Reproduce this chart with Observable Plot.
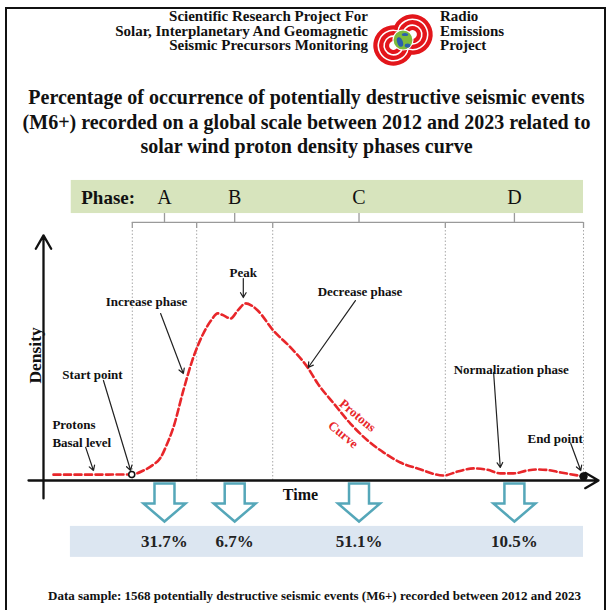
<!DOCTYPE html>
<html><head><meta charset="utf-8">
<script src="https://cdn.jsdelivr.net/npm/d3@7"></script>
<script src="https://cdn.jsdelivr.net/npm/@observablehq/plot@0.6"></script>
<style>
body{margin:0;background:#fff;}
#page{position:relative;width:613px;height:610px;overflow:hidden;background:#fff;font-family:"Liberation Serif","Times New Roman",serif;font-weight:bold;color:#111;}
.frame{position:absolute;left:5px;top:7px;width:601px;height:640px;border:2px solid #111;box-sizing:border-box;}
.hdrL{position:absolute;right:245px;top:9px;text-align:right;font-size:15px;line-height:14.5px;white-space:nowrap;}
.hdrR{position:absolute;left:440px;top:9px;text-align:left;font-size:15px;line-height:14.5px;white-space:nowrap;}
.logo{position:absolute;left:366px;top:5px;}
.title{position:absolute;left:0;width:613px;top:85px;text-align:center;font-size:20px;line-height:24.5px;}
#chart{position:absolute;left:0;top:165px;}
.caption{position:absolute;left:8px;width:613px;top:588px;text-align:center;font-size:13px;line-height:16px;}
</style></head>
<body>
<div id="page">
  <div class="frame"></div>
  <div class="hdrL">Scientific Research Project For<br>Solar, Interplanetary And Geomagnetic<br>Seismic Precursors Monitoring</div>
  <svg class="logo" id="logo" width="76" height="64"></svg>
  <div class="hdrR">Radio<br>Emissions<br>Project</div>
  <div class="title">Percentage of occurrence of potentially destructive seismic events<br>(M6+) recorded on a global scale between 2012 and 2023 related to<br>solar wind proton density phases curve</div>
  <div id="chart"></div>
  <div class="caption">Data sample: 1568 potentially destructive seismic events (M6+) recorded between 2012 and 2023</div>
</div>
<script>
// ---------- data ----------
const phases = ["A", "B", "C", "D"];
const phaseStart = [16.0, 27.6, 41.3, 72.4];
const phaseEnd = [27.6, 41.3, 72.4, 97.3];
const percentages = [31.7, 6.7, 51.1, 10.5];

const curveTime = [1.8, 8, 15.9, 18.0, 19.6, 21.1, 22.3, 23.4, 25.2, 26.8, 28.8, 30.2, 31.4, 32.6, 33.7, 35.0, 36.4, 37.5, 38.6, 41.4, 44.5, 47.6, 49.4, 52.3, 55.3, 58.4, 61.3, 64.3, 67.4, 72.1, 74.8, 77.5, 80.0, 82.3, 84.7, 87.0, 89.0, 91.0, 93.2, 97.3];
const curveDensity = [3.3, 3.3, 3.4, 5.6, 8.5, 12.9, 20.8, 29.8, 50.6, 67.4, 82.6, 90.0, 93.9, 92.5, 91.0, 95.5, 99.5, 98.3, 95.5, 84.3, 74.8, 63.5, 54.5, 43.3, 32.0, 22.5, 15.7, 10.1, 6.8, 2.8, 5.2, 6.8, 6.0, 4.0, 4.0, 5.5, 6.2, 5.8, 4.5, 2.3];

const noteLabels = ["Protons\nBasal level", "Start point", "Increase phase", "Peak", "Decrease phase", "Normalization phase", "End point"];
const noteTime = [1.6, 3.4, 11.2, 36.0, 49.4, 73.9, 87.2];
const noteDensity = [27.3, 60.7, 101.7, 118.0, 106.8, 63.5, 24.7];
const noteAnchor = ["start", "start", "start", "middle", "start", "start", "start"];
const pointerFromTime = [7.6, 10.8, 21.1, 36.0, 56.2, 81.1, 95.0];
const pointerFromDensity = [18.6, 56.2, 93.8, 113.5, 101.1, 60.7, 20.8];
const pointerToTime = [9.0, 15.7, 25.2, 36.0, 47.7, 82.3, 96.8];
const pointerToDensity = [5.6, 5.6, 60.1, 102.8, 63.5, 7.3, 5.6];

const curveLabels = ["Protons", "Curve"];
const curveLabelTime = [56.6, 54.0];
const curveLabelDensity = [36.5, 25.8];

// ---------- derived tables ----------
const curve = curveTime.map((t, i) => ({t, d: curveDensity[i]}));
const phaseRows = phases.map((p, i) => ({p, s: phaseStart[i], e: phaseEnd[i], m: (phaseStart[i] + phaseEnd[i]) / 2, pct: percentages[i]}));
const bounds = [...phaseStart, phaseEnd[phaseEnd.length - 1]];
const notes = noteLabels.map((text, i) => ({text, t: noteTime[i], d: noteDensity[i], a: noteAnchor[i]}));
const pointers = noteLabels.map((_, i) => ({x1: pointerFromTime[i], y1: pointerFromDensity[i], x2: pointerToTime[i], y2: pointerToDensity[i]}));
const curveNotes = curveLabels.map((text, i) => ({text, t: curveLabelTime[i], d: curveLabelDensity[i]}));

// layout (density units, above / below the curve area)
const BAR = [150.0, 168.6], BRACKET = 145.0, CORNER = 141.6, PHASE_Y = 159.0;
const BAND = [-43.2, -25.8], PCT_Y = -34.3, ARROW_Y = -12.4;
const BAR_LEFT = 5.0, BAR_RIGHT = 97.3;

const blockArrow = {
  draw(ctx, size) {
    const r = Math.sqrt(size / Math.PI);
    const sw = 0.526 * r, hw = 1.105 * r, hy = 0.05 * r;
    ctx.moveTo(-sw, -r); ctx.lineTo(sw, -r); ctx.lineTo(sw, hy); ctx.lineTo(hw, hy);
    ctx.lineTo(0, r); ctx.lineTo(-hw, hy); ctx.lineTo(-sw, hy); ctx.closePath();
  }
};

const serif = "Liberation Serif";
const noteStyle = {x: "t", y: "d", text: "text", fontSize: 13, fontWeight: "bold", fill: "#111", lineHeight: 1.45};
const chart = Plot.plot({
  width: 613, height: 420, margin: 0,
  style: {fontFamily: serif, fontWeight: "bold", fontSize: "12px", background: "transparent", overflow: "visible"},
  x: {domain: [0, 100], range: [43, 598], axis: null},
  y: {domain: [-59, 177], range: [420, 0], axis: null},
  marks: [
    // phase bar
    Plot.rect([0], {x1: BAR_LEFT, x2: BAR_RIGHT, y1: BAR[0], y2: BAR[1], fill: "#d7e4bd"}),
    Plot.text(["Phase:"], {x: BAR_LEFT + 1.8, y: PHASE_Y, text: d => d, textAnchor: "start", fontSize: 19, fontWeight: "bold", fill: "#111"}),
    Plot.text(phaseRows, {x: "m", y: PHASE_Y, text: "p", fontSize: 20, fontWeight: "normal", fill: "#111"}),
    // brackets
    Plot.ruleY(phaseRows, {x1: "s", x2: "e", y: BRACKET, stroke: "#9a9a9a", strokeWidth: 1.3}),
    Plot.ruleX(phaseRows, {x: "m", y1: BRACKET, y2: BAR[0], stroke: "#9a9a9a", strokeWidth: 1.3}),
    Plot.ruleX(bounds, {x: d => d, y1: CORNER, y2: BRACKET, stroke: "#9a9a9a", strokeWidth: 1.3}),
    Plot.ruleX(bounds, {x: d => d, y1: 0, y2: CORNER, stroke: "#a8a8a8", strokeWidth: 1, strokeDasharray: "1.5,2"}),
    // percentage band
    Plot.rect([0], {x1: BAR_LEFT - 0.15, x2: BAR_RIGHT, y1: BAND[0], y2: BAND[1], fill: "#dce6f1"}),
    Plot.dot(phaseRows, {x: "m", y: ARROW_Y, r: 19, symbol: blockArrow, fill: "white", stroke: "#55a7b9", strokeWidth: 2.5}),
    Plot.text(phaseRows, {x: "m", y: PCT_Y, text: d => d.pct.toFixed(1) + "%", fontSize: 17, fontWeight: "bold", fill: "#222"}),
    // axes
    Plot.arrow([0], {x1: 0, x2: 0, y1: -10.1, y2: 137.7, stroke: "#111", strokeWidth: 2.3, headLength: 10}),
    Plot.arrow([0], {x1: -2.7, x2: 100, y1: 0, y2: 0, stroke: "#111", strokeWidth: 2.3, headLength: 10}),
    Plot.text(["Density"], {x: -1.44, y: 70.3, text: d => d, rotate: -90, fontSize: 17.5, fontWeight: "bold", fill: "#111"}),
    Plot.text(["Time"], {x: 46.3, y: -7.8, text: d => d, fontSize: 16, fontWeight: "bold", fill: "#111"}),
    // curve
    Plot.line(curve, {x: "t", y: "d", curve: "monotone-x", stroke: "#e8262a", strokeWidth: 2.6, strokeDasharray: "7,3.5"}),
    Plot.dot([curve[2]], {x: "t", y: "d", r: 3, stroke: "#111", strokeWidth: 1.5, fill: "white"}),
    Plot.dot([curve[curve.length - 1]], {x: "t", y: "d", r: 4.2, fill: "#111", stroke: "none"}),
    // annotations
    Plot.arrow(pointers, {x1: "x1", y1: "y1", x2: "x2", y2: "y2", stroke: "#222", strokeWidth: 1.2, headLength: 7}),
    Plot.text(notes.filter(n => n.a === "start"), {...noteStyle, textAnchor: "start"}),
    Plot.text(notes.filter(n => n.a === "middle"), {...noteStyle, textAnchor: "middle"}),
    Plot.text(curveNotes, {x: "t", y: "d", text: "text", rotate: 40, fontSize: 13, fontWeight: "bold", fill: "#e8262a"})
  ]
});
document.getElementById("chart").appendChild(chart);

// ---------- logo (decoration) ----------
const logo = d3.select("#logo");
const gx = 37, gy = 35;
const arc = d3.arc();
const lobes = [{cx: gx - 9.5, cy: gy + 5.5, open: Math.PI / 3}, {cx: gx + 9.5, cy: gy - 5.5, open: Math.PI / 3 + Math.PI}];
for (const L of lobes) {
  for (const r of [6.5, 12.3, 18.1]) {
    logo.append("path")
      .attr("transform", `translate(${L.cx},${L.cy})`)
      .attr("d", arc({innerRadius: r - 2.1, outerRadius: r + 2.1, startAngle: L.open + 0.8, endAngle: L.open + 2 * Math.PI - 0.8}))
      .attr("fill", "#e3161b");
  }
}
logo.append("circle").attr("cx", gx).attr("cy", gy).attr("r", 10).attr("fill", "#7dbb3c").attr("stroke", "#fff").attr("stroke-width", 1.2);
logo.append("ellipse").attr("cx", gx - 3).attr("cy", gy + 2).attr("rx", 2.8).attr("ry", 5).attr("fill", "#2b5fae").attr("transform", `rotate(-20 ${gx - 3} ${gy + 2})`);
logo.append("ellipse").attr("cx", gx + 4.5).attr("cy", gy + 5.5).attr("rx", 2.8).attr("ry", 2).attr("fill", "#2b5fae");
logo.append("ellipse").attr("cx", gx + 2).attr("cy", gy - 5.5).attr("rx", 3.2).attr("ry", 1.6).attr("fill", "#2b5fae");
</script>
</body></html>
